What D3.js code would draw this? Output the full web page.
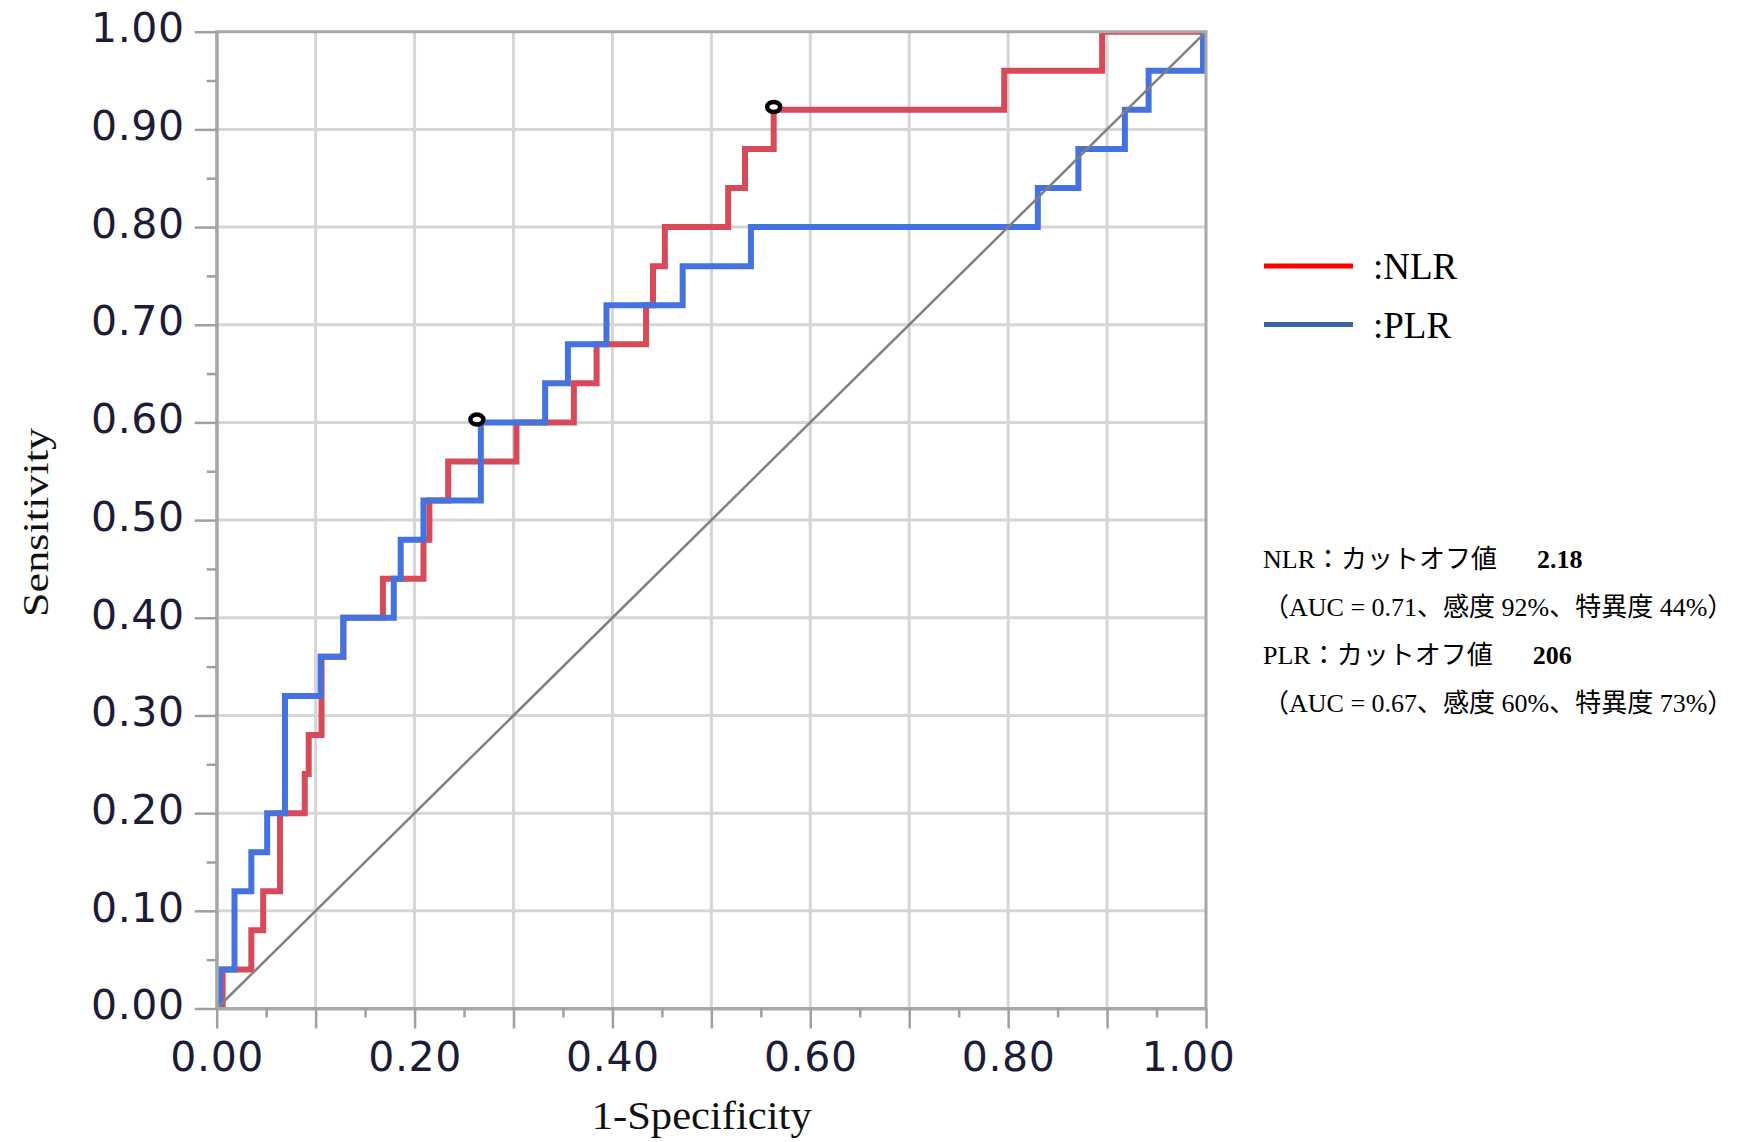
<!DOCTYPE html>
<html><head><meta charset="utf-8">
<script src="https://cdn.jsdelivr.net/npm/d3@7"></script>
<style>html,body{margin:0;padding:0;background:#fff;} svg{display:block;}</style>
</head><body><svg id="chart" width="1738" height="1142"></svg>
<script>
// ROC step data (stepBefore order: fpr at which each sensitivity level ends)
const nlrFpr = [0.006, 0.035, 0.047, 0.064, 0.089, 0.093, 0.106, 0.128, 0.168, 0.209, 0.215, 0.234, 0.303, 0.361, 0.384, 0.434, 0.441, 0.453, 0.517, 0.534, 0.563, 0.796, 0.895, 1.0];
const nlrTpr = [0, 0.04, 0.08, 0.12, 0.20, 0.24, 0.28, 0.36, 0.40, 0.44, 0.48, 0.52, 0.56, 0.60, 0.64, 0.68, 0.72, 0.76, 0.80, 0.84, 0.88, 0.92, 0.96, 1.0];
const plrFpr = [0.003, 0.018, 0.035, 0.051, 0.069, 0.105, 0.128, 0.179, 0.186, 0.209, 0.267, 0.332, 0.355, 0.394, 0.471, 0.540, 0.830, 0.871, 0.918, 0.942, 0.997, 1.0];
const plrTpr = [0, 0.04, 0.12, 0.16, 0.20, 0.32, 0.36, 0.40, 0.44, 0.48, 0.52, 0.60, 0.64, 0.68, 0.72, 0.76, 0.80, 0.84, 0.88, 0.92, 0.96, 1.0];

const cutoffFpr = [0.563, 0.263];
const cutoffTpr = [0.923, 0.603];

const xTickValues = [0, 0.2, 0.4, 0.6, 0.8, 1.0];
const xTickLabels = ["0.00", "0.20", "0.40", "0.60", "0.80", "1.00"];
const yTickValues = [0, 0.1, 0.2, 0.3, 0.4, 0.5, 0.6, 0.7, 0.8, 0.9, 1.0];
const yTickLabels = ["0.00", "0.10", "0.20", "0.30", "0.40", "0.50", "0.60", "0.70", "0.80", "0.90", "1.00"];
const majorTicks = [0, 0.1, 0.2, 0.3, 0.4, 0.5, 0.6, 0.7, 0.8, 0.9, 1.0];
const minorTicks = [0.05, 0.15, 0.25, 0.35, 0.45, 0.55, 0.65, 0.75, 0.85, 0.95];
const gridValues = [0.1, 0.2, 0.3, 0.4, 0.5, 0.6, 0.7, 0.8, 0.9];

const xTitle = "1-Specificity";
const yTitle = "Sensitivity";
const legendNames = [":NLR", ":PLR"];
const noteHeads = ["NLR：カットオフ値", "PLR：カットオフ値"];
const noteCutoffs = ["2.18", "206"];
const noteStats = ["（AUC = 0.71、感度 92%、特異度 44%）", "（AUC = 0.67、感度 60%、特異度 73%）"];

const svg = d3.select("#chart");
const x = d3.scaleLinear().domain([0, 1]).range([216.7, 1206]);
const y = d3.scaleLinear().domain([0, 1]).range([1008.5, 31.7]);

svg.append("rect").attr("width", 1738).attr("height", 1142).attr("fill", "#fff");

// grid
const grid = svg.append("g").attr("stroke", "#d6d6d6").attr("stroke-width", 3);
grid.selectAll("line.v").data(gridValues).join("line").attr("class", "v")
  .attr("x1", d => x(d)).attr("x2", d => x(d)).attr("y1", y(1)).attr("y2", y(0));
grid.selectAll("line.h").data(gridValues).join("line").attr("class", "h")
  .attr("y1", d => y(d)).attr("y2", d => y(d)).attr("x1", x(0)).attr("x2", x(1));

// clip for curves
svg.append("clipPath").attr("id", "plotclip").append("rect")
  .attr("x", x(0)).attr("y", y(1)).attr("width", x(1) - x(0)).attr("height", y(0) - y(1));

const line = d3.line().x(d => x(d[0])).y(d => y(d[1])).curve(d3.curveStepBefore);
const curves = svg.append("g").attr("clip-path", "url(#plotclip)");
curves.append("path").datum(nlrFpr.map((f, i) => [f, nlrTpr[i]]))
  .attr("d", line).attr("fill", "none").attr("stroke", "#d64a59").attr("stroke-width", 6).attr("stroke-linejoin", "miter");
curves.append("path").datum(plrFpr.map((f, i) => [f, plrTpr[i]]))
  .attr("d", line).attr("fill", "none").attr("stroke", "#4472de").attr("stroke-width", 6).attr("stroke-linejoin", "miter");

// diagonal
svg.append("line").attr("x1", x(0)).attr("y1", y(0)).attr("x2", x(1)).attr("y2", y(1))
  .attr("stroke", "#808080").attr("stroke-width", 2.5);

// border
svg.append("rect").attr("x", x(0)).attr("y", y(1)).attr("width", x(1) - x(0)).attr("height", y(0) - y(1))
  .attr("fill", "none").attr("stroke", "#a8a8a8").attr("stroke-width", 3);

const fontTick = "'DejaVu Sans', Verdana, sans-serif";
const labelFor = (vals, labs) => d => { const i = vals.findIndex(v => Math.abs(v - d) < 1e-9); return i >= 0 ? labs[i] : ""; };

// bottom axis
const gx = svg.append("g").attr("transform", `translate(0,${y(0)})`)
  .call(d3.axisBottom(x).tickValues(majorTicks).tickSize(20).tickSizeOuter(0).tickPadding(13)
    .tickFormat(labelFor(xTickValues, xTickLabels)));
const gx2 = svg.append("g").attr("transform", `translate(0,${y(0)})`)
  .call(d3.axisBottom(x).tickValues(minorTicks).tickSize(9).tickSizeOuter(0).tickFormat(""));
gx2.select(".domain").remove();
// left axis
const gy = svg.append("g").attr("transform", `translate(${x(0)},0)`)
  .call(d3.axisLeft(y).tickValues(yTickValues).tickSize(22).tickSizeOuter(0).tickPadding(10)
    .tickFormat(labelFor(yTickValues, yTickLabels)));
const gy2 = svg.append("g").attr("transform", `translate(${x(0)},0)`)
  .call(d3.axisLeft(y).tickValues(minorTicks).tickSize(10).tickSizeOuter(0).tickFormat(""));
gy2.select(".domain").remove();

[gx, gx2, gy, gy2].forEach(g => {
  g.selectAll(".domain").attr("stroke", "#a8a8a8").attr("stroke-width", 3);
  g.selectAll(".tick line").attr("stroke", "#a0a0a0").attr("stroke-width", 2.5);
  g.selectAll(".tick text").attr("font-family", fontTick).attr("font-size", 41)
    .attr("letter-spacing", 0.6).attr("fill", "#1c1c38");
});
gy.selectAll(".tick text").attr("dy", "0.25em");
gx.selectAll(".tick text").filter(d => Math.abs(d - 1) < 1e-9).attr("dx", -18);

// markers
svg.append("g").selectAll("ellipse").data(cutoffFpr.map((f, i) => [f, cutoffTpr[i]])).join("ellipse")
  .attr("cx", d => x(d[0])).attr("cy", d => y(d[1])).attr("rx", 6.5).attr("ry", 5)
  .attr("fill", "#fff").attr("stroke", "#000").attr("stroke-width", 4.5);

// axis titles
svg.append("text").attr("transform", "translate(48,522.5) rotate(-90)")
  .attr("text-anchor", "middle").attr("font-family", "'Liberation Serif', serif").attr("font-size", 35)
  .attr("textLength", 189).attr("lengthAdjust", "spacingAndGlyphs").attr("fill", "#111").text(yTitle);
svg.append("text").attr("x", 701.7).attr("y", 1129.3)
  .attr("text-anchor", "middle").attr("font-family", "'Liberation Serif', serif").attr("font-size", 39)
  .attr("textLength", 220).attr("lengthAdjust", "spacingAndGlyphs").attr("fill", "#111").text(xTitle);

// legend
const legendColors = ["#ff0000", "#3c62a0"];
const lg = svg.append("g");
legendNames.forEach((name, i) => {
  const yy = 266 + i * 58.5;
  lg.append("line").attr("x1", 1264).attr("x2", 1353).attr("y1", yy).attr("y2", yy)
    .attr("stroke", legendColors[i]).attr("stroke-width", 5);
  lg.append("text").attr("x", 1373).attr("y", yy + 13.3)
    .attr("font-family", "'Liberation Serif', serif").attr("font-size", 37).attr("fill", "#000").text(name);
});

// notes
const noteFont = "'Liberation Serif', 'Noto Sans CJK JP', serif";
const notes = svg.append("g").attr("font-family", noteFont).attr("font-size", 26).attr("fill", "#000");
noteHeads.forEach((h, i) => {
  const base = 568.3 + i * 96;
  const t = notes.append("text").attr("x", 1263).attr("y", base);
  t.append("tspan").text(h);
  t.append("tspan").attr("dx", 40).attr("font-weight", "bold").text(noteCutoffs[i]);
  notes.append("text").attr("x", 1263).attr("y", base + 48).text(noteStats[i]);
});
</script></body></html>
